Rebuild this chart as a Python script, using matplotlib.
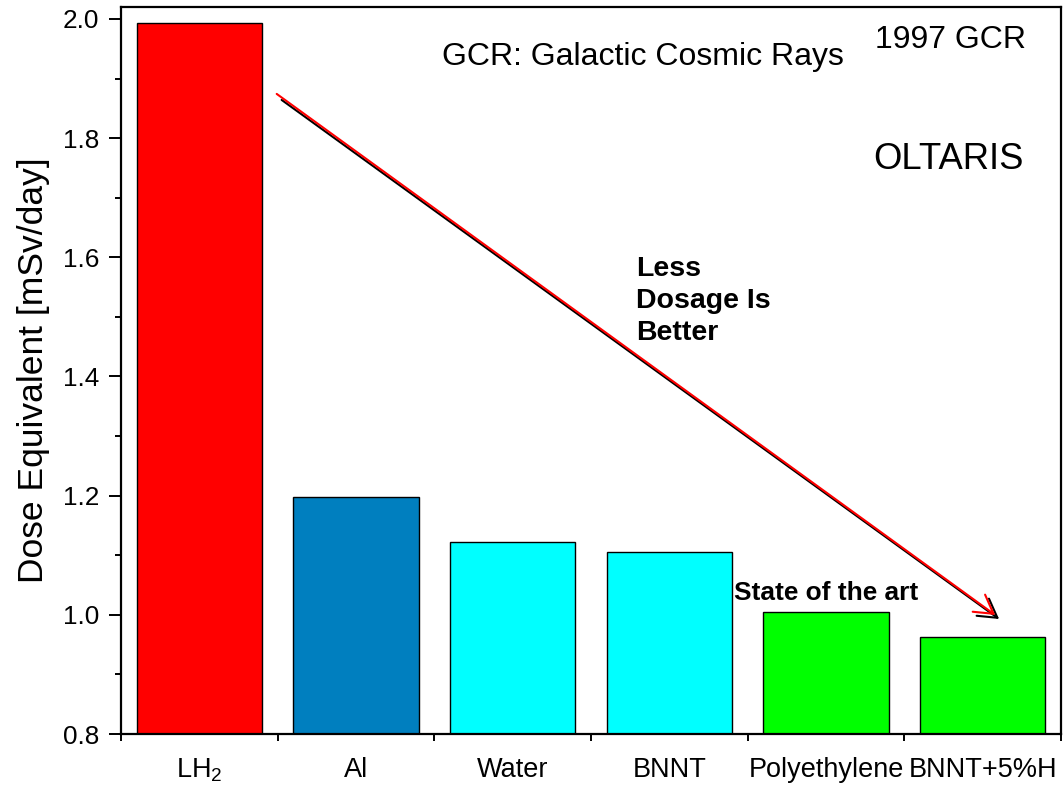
import numpy as np
import matplotlib
matplotlib.use('Agg')
import matplotlib.pyplot as plt

plt.rcParams['font.family'] = ['Liberation Sans', 'DejaVu Sans']
plt.rcParams['mathtext.fontset'] = 'custom'
plt.rcParams['mathtext.rm'] = 'Liberation Sans'

# Dose equivalent per shielding material (1997 GCR, OLTARIS)
materials = [r'LH$_\mathregular{2}$', 'Al', 'Water', 'BNNT', 'Polyethylene', 'BNNT+5%H']
dose = [1.993, 1.197, 1.123, 1.106, 1.004, 0.963]
bar_colors = ['#ff0000', '#007fbf', '#00ffff', '#00ffff', '#00ff00', '#00ff00']

fig = plt.figure(figsize=(10.63, 7.89), dpi=100)
ax = fig.add_axes([0.1138, 0.0697, 0.8843, 0.9214])

x = np.arange(1, len(materials) + 1)
ax.bar(x, np.array(dose) - 0.8, bottom=0.8, width=0.8, color=bar_colors,
       edgecolor='black', linewidth=1.0)

ax.set_xlim(0.5, 6.5)
ax.set_ylim(0.8, 2.02)

# category boundaries get the tick marks, names sit between them
ax.set_xticks(np.arange(0.5, 7, 1))
ax.set_xticklabels([])
ax.set_xticks(x, minor=True)
ax.set_xticklabels(materials, minor=True, fontsize=19.5)
ax.tick_params(axis='x', which='major', direction='out', length=5, width=1.4)
ax.tick_params(axis='x', which='minor', length=0, pad=16.5)

ax.set_yticks(np.arange(0.8, 2.01, 0.2))
ax.set_yticks(np.arange(0.9, 2.0, 0.2), minor=True)
ax.set_yticklabels(['%.1f' % v for v in np.arange(0.8, 2.01, 0.2)], fontsize=18.8)
ax.tick_params(axis='y', which='major', direction='out', length=9, width=1.4, pad=6.5)
ax.tick_params(axis='y', which='minor', direction='out', length=4.5, width=1.4)

for s in ax.spines.values():
    s.set_linewidth(1.6)

ax.set_ylabel('Dose Equivalent [mSv/day]', fontsize=25.5)
ax.yaxis.set_label_coords(-0.075, 0.5)

# annotations
ax.text(2.551, 1.923, 'GCR: Galactic Cosmic Rays', fontsize=23, ha='left', va='baseline')
ax.text(5.315, 1.951, '1997 GCR', fontsize=23, ha='left', va='baseline')
ax.text(5.30, 1.748, 'OLTARIS', fontsize=26.2, ha='left', va='baseline')
ax.text(3.787, 1.603, 'Less\nDosage Is\nBetter', fontsize=20.5, fontweight='bold',
        ha='left', va='top', linespacing=1.32)
ax.text(4.411, 1.025, 'State of the art', fontsize=18.9, fontweight='bold',
        ha='left', va='baseline')

# trend arrow: black shadow under a red arrow
ax.annotate('', xy=(6.105, 0.993), xytext=(1.5255, 1.8641),
            arrowprops=dict(arrowstyle='->,head_length=0.65,head_width=0.38',
                            mutation_scale=20, color='black', lw=1.5,
                            shrinkA=0, shrinkB=0))
ax.annotate('', xy=(6.08, 0.9997), xytext=(1.494, 1.8742),
            arrowprops=dict(arrowstyle='->,head_length=0.65,head_width=0.38',
                            mutation_scale=20, color='#ff0000', lw=1.5,
                            shrinkA=0, shrinkB=0))

fig.savefig('out.png', dpi=100)
